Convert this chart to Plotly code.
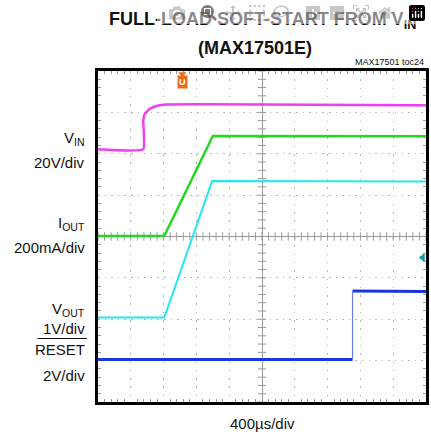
import numpy as np
import plotly.graph_objects as go

# scope screen in divisions: x -5..5 (400us/div), y -4..4
vin_x = [-5.0, -3.62, -3.62, -3.58, -3.43, -3.19, -2.92, 5.0]
vin_y = [2.11, 2.11, 2.80, 2.95, 3.08, 3.16, 3.19, 3.17]

iout_x = [-5.0, -2.98, -1.50, 5.0]
iout_y = [0.01, 0.01, 2.43, 2.42]

vout_x = [-5.0, -2.98, -1.52, 5.0]
vout_y = [-1.96, -1.96, 1.34, 1.33]

reset_x = [-5.0, 2.76, 2.76, 5.0]
reset_y = [-2.97, -2.97, -1.32, -1.33]

trig_x = -2.43
trig_level = -0.51

labels = [("V<sub>IN</sub>", 138.5), ("20V/div", 162),
          ("I<sub>OUT</sub>", 223.5), ("200mA/div", 247),
          ("V<sub>OUT</sub>", 309.5), ("1V/div", 328.5),
          ("RESET", 349), ("2V/div", 375)]

FONT = "Liberation Sans, Arial, sans-serif"
X0, Y0, W, H = 98, 71, 331, 331

def px(x):
    return (x - X0) / W

def py(y):
    return (Y0 + H - y) / H

fig = go.Figure()

# center crosshair ticks
cx = np.arange(-5, 5.01, 0.2)
cy = np.arange(-4, 4.01, 0.2)
fig.add_trace(go.Scatter(x=cx, y=np.zeros_like(cx), mode="markers",
                         marker=dict(symbol="line-ns", size=6, line=dict(width=1, color="#9a9a9a")),
                         hoverinfo="skip", showlegend=False))
fig.add_trace(go.Scatter(x=np.zeros_like(cy), y=cy, mode="markers",
                         marker=dict(symbol="line-ew", size=6, line=dict(width=1, color="#9a9a9a")),
                         hoverinfo="skip", showlegend=False))

fig.add_trace(go.Scatter(x=vin_x, y=vin_y, mode="lines", line=dict(color="#f23ef2", width=2.5, shape="spline", smoothing=0.4)))
fig.add_trace(go.Scatter(x=iout_x, y=iout_y, mode="lines", line=dict(color="#22d822", width=2.5)))
fig.add_trace(go.Scatter(x=vout_x, y=vout_y, mode="lines", line=dict(color="#25e6f5", width=2)))
fig.add_trace(go.Scatter(x=reset_x[2:], y=reset_y[2:], mode="lines", line=dict(color="#1a35e0", width=3)))
fig.add_trace(go.Scatter(x=reset_x[:2], y=reset_y[:2], mode="lines", line=dict(color="#1a35e0", width=3)))
fig.add_trace(go.Scatter(x=reset_x[1:3], y=reset_y[1:3], mode="lines", line=dict(color="#6a7cf0", width=1.2)))

# trigger level marker
fig.add_trace(go.Scatter(x=[4.9], y=[trig_level], mode="markers",
                         marker=dict(symbol="triangle-left", size=8, color="#1a9aa6"),
                         hoverinfo="skip", showlegend=False))
# trigger position marker
fig.add_trace(go.Scatter(x=[trig_x], y=[3.93], mode="markers",
                         marker=dict(symbol="triangle-down", size=7, color="#ee6a1a"),
                         hoverinfo="skip", showlegend=False))

ann = []
ann.append(dict(x=trig_x, y=3.73, xref="x", yref="y", text="<b>U</b>", showarrow=False,
                xanchor="center", yanchor="middle",
                font=dict(family=FONT, size=9, color="white"), bgcolor="#ee6a1a", borderpad=1))
ann.append(dict(x=0.5, y=py(20.5), xref="paper", yref="paper", showarrow=False,
                xanchor="center", yanchor="middle",
                text="<b>FULL-LOAD SOFT-START FROM V<sub>IN</sub></b>",
                font=dict(family=FONT, size=18, color="#111")))
ann.append(dict(x=0.48, y=py(48), xref="paper", yref="paper", showarrow=False,
                xanchor="center", yanchor="middle",
                text="<b>(MAX17501E)</b>",
                font=dict(family=FONT, size=18, color="#111")))
ann.append(dict(x=1.0, y=py(62), xref="paper", yref="paper", showarrow=False,
                xanchor="right", yanchor="middle",
                text="MAX17501 toc24", font=dict(family=FONT, size=9, color="#111")))
ann.append(dict(x=0.5, y=py(423), xref="paper", yref="paper", showarrow=False,
                xanchor="center", yanchor="middle",
                text="400µs/div", font=dict(family=FONT, size=15, color="#111")))
for t, yy in labels:
    ann.append(dict(x=px(87), y=py(yy), xref="paper", yref="paper", showarrow=False,
                    xanchor="right", yanchor="middle",
                    text=t, font=dict(family=FONT, size=15, color="#111")))

# overline of RESET
fig.add_shape(type="line", xref="paper", yref="paper", x0=px(37), x1=px(87), y0=py(338.5), y1=py(338.5),
              line=dict(color="#111", width=1.2))

axis_common = dict(showline=True, mirror="allticks", linecolor="black", linewidth=3,
                   showticklabels=False, ticks="", gridcolor="#b4b4b4", gridwidth=1,
                   zeroline=True, zerolinecolor="#9a9a9a", zerolinewidth=1)

fig.update_layout(
    width=431, height=434,
    margin=dict(l=X0, r=431 - X0 - W, t=Y0, b=434 - Y0 - H),
    paper_bgcolor="white", plot_bgcolor="white",
    showlegend=False,
    annotations=ann,
    xaxis=dict(range=[-5, 5], dtick=1, griddash="1.5px,6.8px",
               minor=dict(dtick=0.2, ticks="inside", ticklen=3, tickcolor="#9a9a9a", showgrid=False),
               **axis_common),
    yaxis=dict(range=[-4, 4], dtick=1, griddash="1.5px,5.1px",
               minor=dict(dtick=0.2, ticks="inside", ticklen=3, tickcolor="#9a9a9a", showgrid=False),
               **axis_common),
)

fig.write_html("out.html", post_script="document.body.style.margin='0px';")
